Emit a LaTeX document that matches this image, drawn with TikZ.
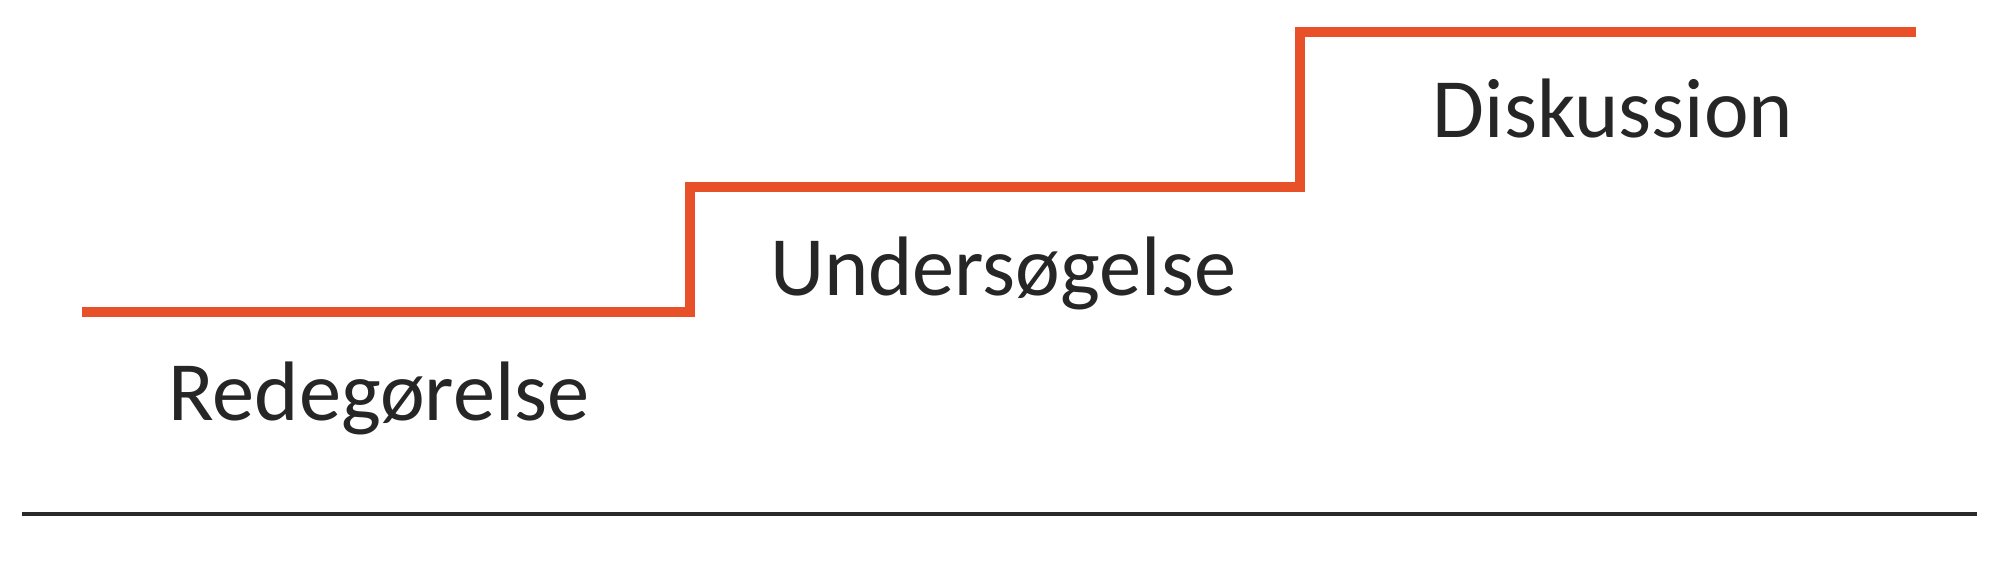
\documentclass[tikz,border=0pt]{standalone}
\usepackage{fontspec}
\setmainfont{Carlito}
\definecolor{trappe}{HTML}{E8502A}
\definecolor{grund}{HTML}{2A2A2A}
\begin{document}
\begin{tikzpicture}[x=0.01cm, y=0.01cm]
    \useasboundingbox (0,0) rectangle (2000,577);
    \tikzset{trin/.style={font=\fontsize{24}{27}\selectfont, text=black!85, anchor=base, inner sep=0pt}}

    % Grundlinje
    \coordinate (g0) at (22,63);
    \coordinate (g1) at (1977,63);
    \draw[line width=1.2pt, color=grund] (g0) -- (g1);

    % Trappe
    \coordinate (t0) at (82,265);
    \coordinate (t1) at (690,265);
    \coordinate (t2) at (690,390);
    \coordinate (t3) at (1300,390);
    \coordinate (t4) at (1300,545);
    \coordinate (t5) at (1916,545);
    \draw[line width=2.8pt, color=trappe] (t0) -- (t1) -- (t2) -- (t3) -- (t4) -- (t5);

    % Trin
    \node[trin] (redeg) at (379,156) {Redegørelse};
    \node[trin] (under) at (1003,281) {Undersøgelse};
    \node[trin] (disk) at (1613,439) {Diskussion};

\end{tikzpicture}
\end{document}
